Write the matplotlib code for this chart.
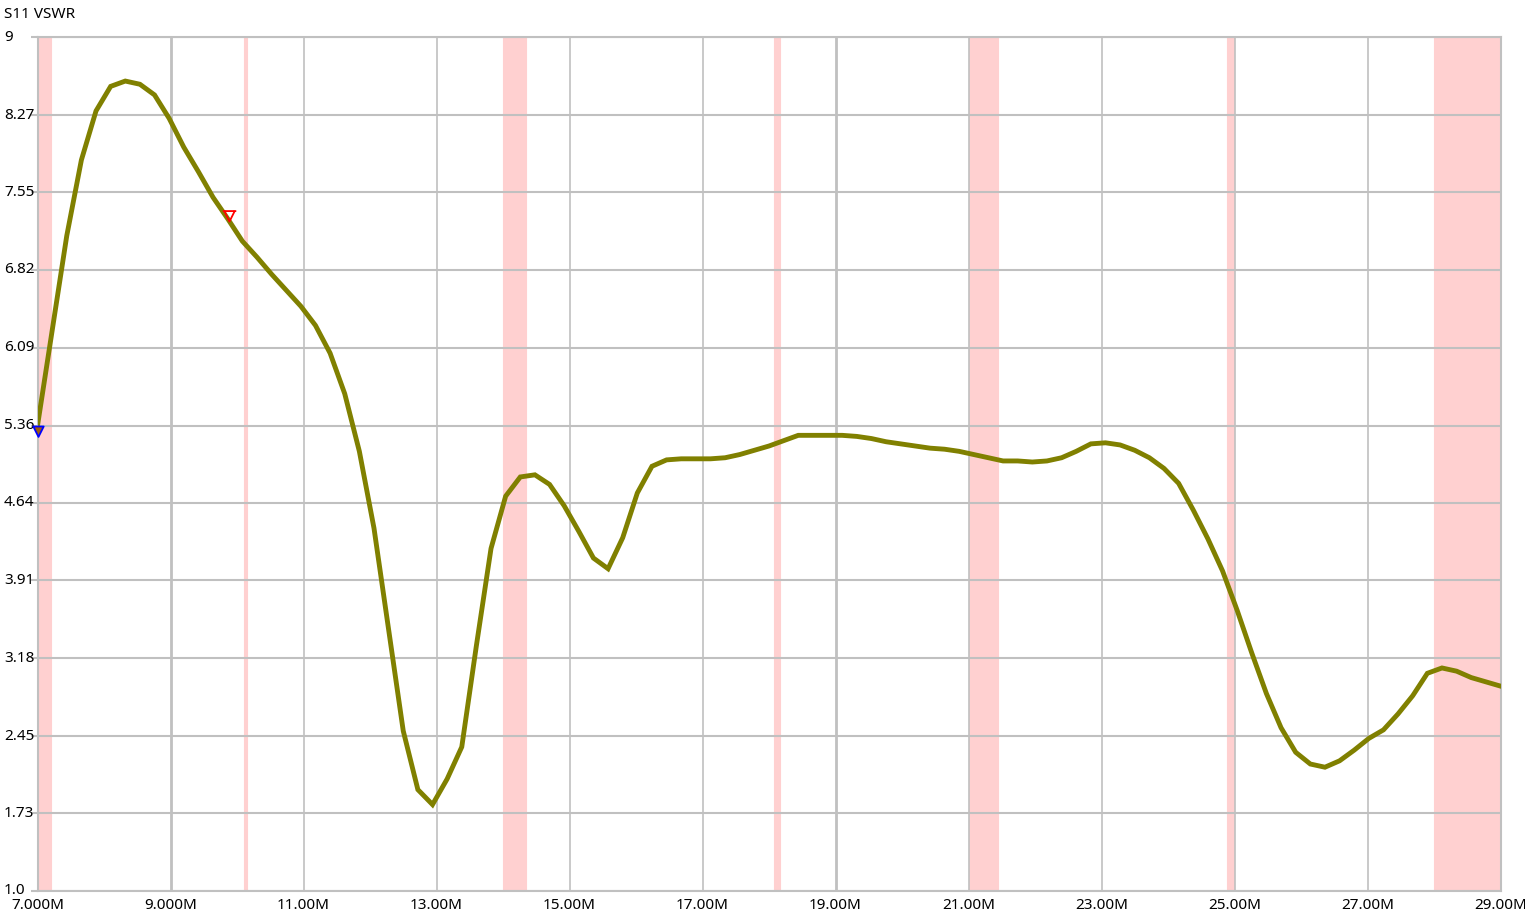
import numpy as np
import matplotlib
matplotlib.use("Agg")
import matplotlib.pyplot as plt
from matplotlib.path import Path
from matplotlib.transforms import blended_transform_factory

# ---------------- data ----------------
title = "S11 VSWR"
freq_start_mhz = 7.0
freq_stop_mhz = 29.0
n_points = 101

vswr = [
    5.36, 6.25, 7.14, 7.85, 8.31, 8.54, 8.59, 8.56, 8.46, 8.24,
    7.97, 7.74, 7.50, 7.30, 7.09, 6.94, 6.78, 6.63, 6.48, 6.30,
    6.04, 5.66, 5.12, 4.40, 3.45, 2.50, 1.95, 1.81, 2.05, 2.35,
    3.30, 4.21, 4.70, 4.88, 4.90, 4.81, 4.61, 4.37, 4.12, 4.02,
    4.31, 4.73, 4.98, 5.04, 5.05, 5.05, 5.05, 5.06, 5.09, 5.13,
    5.17, 5.22, 5.27, 5.27, 5.27, 5.27, 5.26, 5.24, 5.21, 5.19,
    5.17, 5.15, 5.14, 5.12, 5.09, 5.06, 5.03, 5.03, 5.02, 5.03,
    5.06, 5.12, 5.19, 5.20, 5.18, 5.13, 5.06, 4.96, 4.82, 4.57,
    4.30, 4.00, 3.63, 3.23, 2.85, 2.53, 2.30, 2.19, 2.16, 2.22,
    2.32, 2.43, 2.51, 2.66, 2.83, 3.04, 3.09, 3.06, 3.00, 2.96,
    2.92,
]

# amateur bands (MHz)
band_lo = [7.0, 10.10, 14.0, 18.068, 21.0, 24.89, 28.0]
band_hi = [7.2, 10.15, 14.35, 18.168, 21.45, 24.99, 29.7]

y_ticks = [1.0, 1.73, 2.45, 3.18, 3.91, 4.64, 5.36, 6.09, 6.82, 7.55, 8.27, 9.0]
y_labels = ["1.0", "1.73", "2.45", "3.18", "3.91", "4.64", "5.36", "6.09",
            "6.82", "7.55", "8.27", "9"]
x_ticks = [7, 9, 11, 13, 15, 17, 19, 21, 23, 25, 27, 29]
x_labels = ["7.000M", "9.000M", "11.00M", "13.00M", "15.00M", "17.00M",
            "19.00M", "21.00M", "23.00M", "25.00M", "27.00M", "29.00M"]

marker1_f, marker1_v = 7.0, 5.36
marker2_f, marker2_v = 9.88, 7.28

freqs = np.linspace(freq_start_mhz, freq_stop_mhz, n_points)

# ---------------- figure ----------------
plt.rcParams['font.family'] = ['Noto Sans', 'DejaVu Sans']
W, H = 1525, 916
fig = plt.figure(figsize=(W / 100, H / 100), dpi=100)
left, right, top, bottom = 37.5, 1500.5, 37.3, 891.0
ax = fig.add_axes([left / W, 1 - bottom / H, (right - left) / W, (bottom - top) / H])

grid_c = "#c0c0c0"
ax.set_xlim(freq_start_mhz, freq_stop_mhz)
ax.set_ylim(1.0, 9.0)

for lo, hi in zip(band_lo, band_hi):
    ax.axvspan(lo, hi, color="#ffd0d0", lw=0.8, zorder=0)

for yt in y_ticks:
    ax.axhline(yt, color=grid_c, lw=1.5, zorder=1)
for xt in x_ticks:
    ax.axvline(xt, color=grid_c, lw=2.0 if xt in (9, 19, 29) else 1.2, zorder=1)

for s in ax.spines.values():
    s.set_color(grid_c)
    s.set_linewidth(1.5)

ax.set_xticks(x_ticks)
ax.set_xticklabels(x_labels, fontsize=11)
ax.tick_params(axis='x', length=0, pad=5)
ax.set_yticks(y_ticks)
ax.set_yticklabels([])
ax.tick_params(axis='y', length=5, color=grid_c, width=1.5)

trans = blended_transform_factory(fig.transFigure, ax.transData)
for yt, lab in zip(y_ticks, y_labels):
    ax.text(4 / W, yt, lab, transform=trans, ha='left', va='center', fontsize=11)

fig.text(4 / W, 1 - 14 / H, title, ha='left', va='center', fontsize=11)

ax.plot(freqs, vswr, color="#808000", lw=3.5, zorder=3, solid_joinstyle='miter')

# markers
down_tri_below = Path([(-1, 0), (1, 0), (0, -2), (-1, 0)],
                      [Path.MOVETO, Path.LINETO, Path.LINETO, Path.CLOSEPOLY])
ax.plot([marker1_f], [marker1_v], marker=down_tri_below, ms=15, mfc="#9a5a10",
        mec="blue", mew=1.3, ls='none', zorder=5, clip_on=False)

down_tri_above = Path([(-1.3, 2), (1.3, 2), (-1, 2), (0, 0), (1, 2)],
                      [Path.MOVETO, Path.LINETO, Path.MOVETO, Path.LINETO, Path.LINETO])
ax.plot([marker2_f], [marker2_v], marker=down_tri_above, ms=15, mfc="none",
        mec="red", mew=1.3, ls='none', zorder=5)

fig.savefig("out.png", dpi=100)
